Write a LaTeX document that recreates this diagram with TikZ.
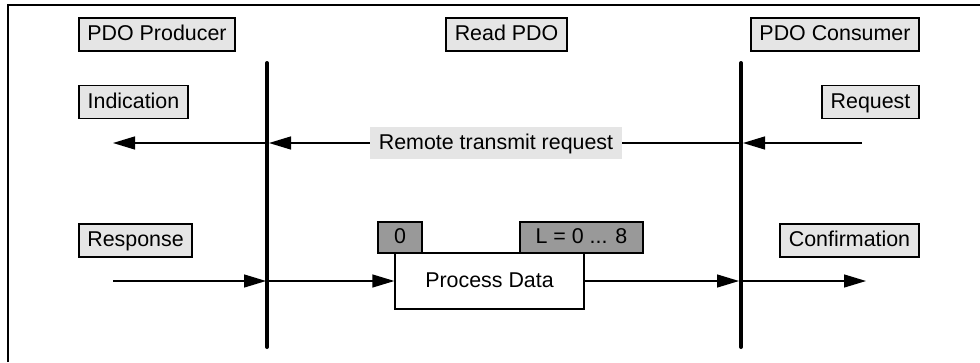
\documentclass[tikz,border=0pt]{standalone}
\usepackage{fontspec}
\setmainfont{Liberation Sans}
\usetikzlibrary{arrows.meta}

\tikzset{
  txt/.style={inner sep=0pt, font=\fontsize{21.4}{25}\selectfont,
    text height=15.3pt, text depth=2.4pt},
  lbl/.style={txt, draw, line width=1.3pt, fill=black!10, minimum height=33pt},
  field/.style={txt, draw, line width=1.3pt, fill=black!40, minimum height=31pt},
  lifeline/.style={line width=4pt, line cap=round},
  msg/.style={line width=1.3pt, -{Triangle[length=22pt,width=13pt]}},
}

\begin{document}
\begin{tikzpicture}[x=1pt,y=-1pt]
  \useasboundingbox (0,0) rectangle (980,362);
  % border (open to the right and below)
  \draw[line width=2pt] (8,362) -- (8,5) -- (980,5);

  % headers
  \node[lbl, minimum width=156pt] (prod) at (157,34.5) {PDO Producer};
  \node[lbl, minimum width=121pt] (read) at (506.5,34.5) {Read PDO};
  \node[lbl, minimum width=168pt] (cons) at (835,34.5) {PDO Consumer};

  % services
  \node[lbl, minimum width=109pt] (ind) at (133.5,102) {Indication};
  \node[lbl, minimum width=97pt] (req) at (870.5,102) {Request};
  \node[lbl, minimum width=113pt] (resp) at (135.5,240.5) {Response};
  \node[lbl, minimum width=139pt] (conf) at (849.5,240.5) {Confirmation};

  % lifelines
  \coordinate (prodtop) at (267,63);
  \coordinate (prodbot) at (267,347);
  \coordinate (constop) at (741,63);
  \coordinate (consbot) at (741,347);
  \draw[lifeline] (prodtop) -- (prodbot);
  \draw[lifeline] (constop) -- (consbot);

  % remote transmit request
  \coordinate (reqout) at (862,143);
  \coordinate (cons1) at (743,143);
  \coordinate (prod1) at (269,143);
  \coordinate (indin) at (113,143);
  \node[txt, fill=black!10, minimum width=252pt, minimum height=32pt] (rtr) at (496,143) {Remote transmit request};
  \draw[msg] (reqout) -- (cons1);
  \draw[line width=1.3pt] (cons1) -- (rtr.east);
  \draw[msg] (rtr.west) -- (prod1);
  \draw[msg] (prod1) -- (indin);

  % process data frame
  \node[txt, draw, line width=1.3pt, fill=white, minimum width=189pt, minimum height=56pt] (pdata) at (489.5,281) {Process Data};
  \node[field, minimum width=44pt] (first) at (400,237.5) {0};
  \node[field, minimum width=123pt] (len) at (581.5,237.5) {L = 0 ... 8};

  % response / confirmation
  \coordinate (respout) at (113,281);
  \coordinate (prod2) at (266,281);
  \coordinate (prod2r) at (269,281);
  \coordinate (cons2) at (739,281);
  \coordinate (cons2r) at (743,281);
  \coordinate (confin) at (866,281);
  \draw[msg] (respout) -- (prod2);
  \draw[msg] (prod2r) -- (pdata.west);
  \draw[msg] (pdata.east) -- (cons2);
  \draw[msg] (cons2r) -- (confin);
\end{tikzpicture}
\end{document}
